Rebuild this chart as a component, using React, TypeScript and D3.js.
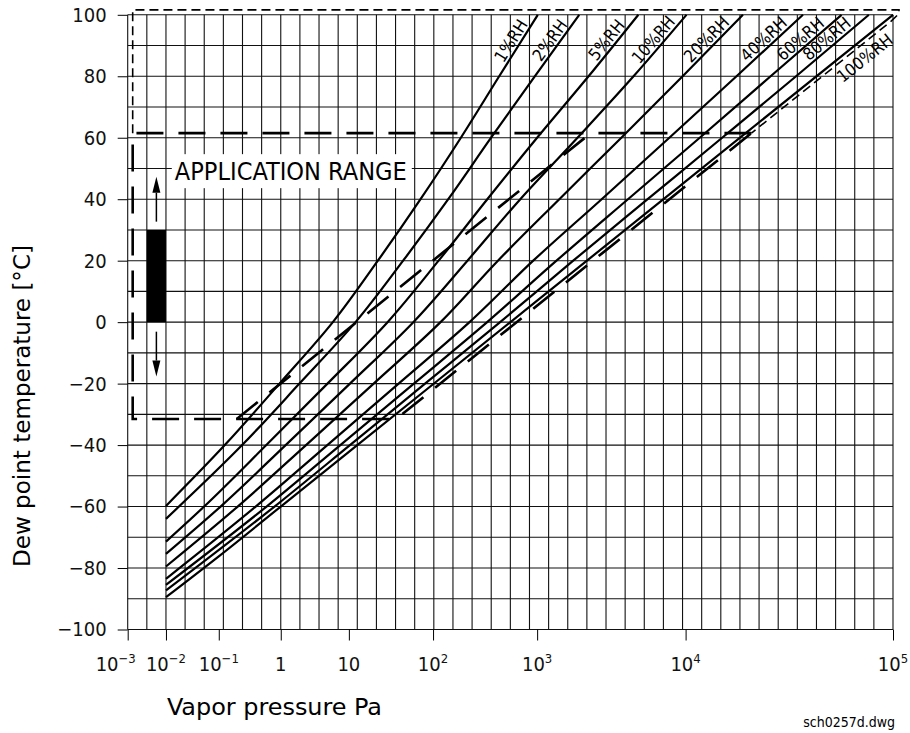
import { useEffect, useRef } from 'react';
import * as d3 from 'd3';

type Pt = [number, number]; // [vapor pressure Pa, temperature °C]

// decades of the vapor pressure axis and the dew point each one sits at
const decadeExp = [-3, -2, -1, 0, 1, 2, 3, 4, 5];
const decadeDewPoint = [-100, -90, -76.2, -60, -42.2, -20.2, 7, 45.8, 100];
const tickBase = ['10', '10', '10', '1', '10', '10', '10', '10', '10'];
const tickExp = ['−3', '−2', '−1', '', '', '2', '3', '4', '5'];
const tempTicks = [-100, -80, -60, -40, -20, 0, 20, 40, 60, 80, 100];

const rhNames = ['1%RH', '2%RH', '5%RH', '10%RH', '20%RH', '40%RH', '60%RH', '80%RH', '100%RH'];

// RH curves
const rh1: Pt[] = [[0.01, -59.8], [0.125, -40], [0.954, -20], [5.82, 0], [22.1, 20], [71, 40], [185, 60], [432, 80], [1010, 100]];
const rh2: Pt[] = [[0.01, -64], [0.238, -40], [1.88, -20], [12, 0], [44.1, 20], [140, 40], [361, 60], [949, 80], [1920, 100]];
const rh5: Pt[] = [[0.01, -71.4], [0.0528, -60], [0.585, -40], [4.85, -20], [28.8, 0], [113, 20], [332, 40], [999, 60], [2220, 80], [4800, 100]];
const rh10: Pt[] = [[0.01, -75.4], [0.107, -60], [1.18, -40], [10.3, -20], [58.3, 0], [214, 20], [689, 40], [1870, 60], [4460, 80], [10100, 100]];
const rh20: Pt[] = [[0.01, -79.5], [0.202, -60], [2.35, -40], [19.7, -20], [118, 0], [420, 20], [1410, 40], [3690, 60], [9550, 80], [18900, 100]];
const rh40: Pt[] = [[0.01, -83.5], [0.394, -60], [4.83, -40], [39, -20], [224, 0], [917, 20], [2720, 40], [7770, 60], [17600, 80], [36800, 100]];
const rh60: Pt[] = [[0.01, -85.5], [0.59, -60], [7.49, -40], [59.2, -20], [331, 0], [1350, 20], [4090, 40], [11700, 60], [25700, 80], [56500, 100]];
const rh80: Pt[] = [[0.01, -87.3], [0.793, -60], [10.3, -40], [80.3, -20], [441, 0], [1750, 20], [5550, 40], [15000, 60], [34100, 80], [76500, 100]];
const rh100: Pt[] = [[0.01, -89.5], [0.1, -76.2], [1, -60], [10, -42.2], [100, -20.2], [1000, 7], [10000, 45.8], [100000, 100]];
const curves = [rh1, rh2, rh5, rh10, rh20, rh40, rh60, rh80, rh100];

// application range outlines
const rangeMain: Pt[] = [[20770, 61.5], [0.00135, 61.5], [0.00135, -31.5], [36.6, -31.5], [20770, 61.5]];
const rangeLimit: Pt[] = [[0.195, -31.5], [2295, 61.5]];
const rangeHigh: Pt[] = [[0.00135, 61.5], [0.00135, 101.6], [106900, 101.6], [106900, 100.4], [98310, 98], [20770, 61.5]];
const sensorBar: Pt[] = [[0.00316, 0], [0.01, 30]];
const arrowUp: Pt[] = [[0.00562, 32.7], [0.00562, 47.3]];
const arrowDown: Pt[] = [[0.00562, -3.1], [0.00562, -17.7]];
const rangeLabelAt: Pt = [0.0147, 46.2];

const FONT = "'Liberation Sans Narrow', 'DejaVu Sans Condensed', 'Arial Narrow', sans-serif";

const DewPointChart = () => {
  const svgRef = useRef<SVGSVGElement>(null);

  useEffect(() => {
    const svg = d3.select(svgRef.current);
    svg.selectAll('*').remove();

    const margin = { top: 14.8, right: 17, bottom: 103.5, left: 127.7 };
    const width = 910 - margin.left - margin.right;
    const height = 733 - margin.top - margin.bottom;

    // x: vapor pressure on a dew point based axis
    const xDew = d3.scaleLinear().domain([-100, 100]).range([0, width]);
    const xLog = d3
      .scaleLinear()
      .domain(decadeExp)
      .range(decadeDewPoint.map((d) => xDew(d)));
    const x = (p: number) => xLog(Math.log10(p));
    const y = d3.scaleLinear().domain([-100, 100]).range([height, 0]);

    svg.append('rect').attr('width', 910).attr('height', 733).attr('fill', '#fff');

    const chart = svg
      .append('g')
      .attr('transform', `translate(${margin.left},${margin.top})`);

    // grid
    chart
      .append('g')
      .selectAll('line')
      .data(d3.range(-100, 101, 5))
      .join('line')
      .attr('x1', (d) => xDew(d))
      .attr('x2', (d) => xDew(d))
      .attr('y1', 0)
      .attr('y2', height)
      .attr('stroke', '#111')
      .attr('stroke-width', 1.1);
    chart
      .append('g')
      .selectAll('line')
      .data(d3.range(-100, 101, 10))
      .join('line')
      .attr('x1', 0)
      .attr('x2', width)
      .attr('y1', (d) => y(d))
      .attr('y2', (d) => y(d))
      .attr('stroke', '#111')
      .attr('stroke-width', 1.1);

    // y axis
    chart
      .append('g')
      .call(
        d3
          .axisLeft(y)
          .tickValues(tempTicks)
          .tickSize(10)
          .tickPadding(11)
          .tickFormat((d) => (+d < 0 ? '−' + Math.abs(+d) : String(d))),
      )
      .call((g) => g.select('.domain').remove())
      .call((g) =>
        g
          .selectAll('text')
          .attr('font-family', FONT)
          .attr('font-size', 20)
          .attr('fill', '#111'),
      );

    // x axis
    const xAxis = chart
      .append('g')
      .attr('transform', `translate(0,${height})`)
      .call(
        d3
          .axisBottom(xLog)
          .tickValues(decadeExp)
          .tickSize(11)
          .tickFormat(() => ''),
      )
      .call((g) => g.select('.domain').remove());
    decadeExp.forEach((e, i) => {
      const t = xAxis
        .append('text')
        .attr('x', xLog(e) + (i === 0 ? -12 : 0))
        .attr('y', 41.5)
        .attr('text-anchor', 'middle')
        .attr('font-family', FONT)
        .attr('font-size', 20)
        .attr('fill', '#111');
      t.append('tspan').text(tickBase[i]);
      if (tickExp[i]) {
        t.append('tspan').attr('dy', -8).attr('font-size', 13).text(tickExp[i]);
      }
    });

    // application range label with white box
    const labelGroup = chart.append('g');
    const rangeText = labelGroup
      .append('text')
      .attr('x', x(rangeLabelAt[0]))
      .attr('y', y(rangeLabelAt[1]))
      .attr('font-family', FONT)
      .attr('font-size', 25)
      .attr('textLength', 232)
      .attr('lengthAdjust', 'spacingAndGlyphs')
      .attr('fill', '#000')
      .text('APPLICATION RANGE');
    const bb = (rangeText.node() as SVGTextElement).getBBox();
    labelGroup
      .insert('rect', 'text')
      .attr('x', bb.x - 3)
      .attr('y', bb.y - 3)
      .attr('width', bb.width + 8)
      .attr('height', bb.height + 5)
      .attr('fill', '#fff');

    const path = d3
      .line<Pt>()
      .x((d) => x(d[0]))
      .y((d) => y(d[1]));

    // range outlines
    chart
      .append('path')
      .attr('d', path(rangeHigh) as string)
      .attr('fill', 'none')
      .attr('stroke', '#000')
      .attr('stroke-width', 1.6)
      .attr('stroke-dasharray', '9 5');
    chart
      .append('path')
      .attr('d', path(rangeMain) as string)
      .attr('fill', 'none')
      .attr('stroke', '#000')
      .attr('stroke-width', 2.6)
      .attr('stroke-dasharray', '27 15');
    chart
      .append('path')
      .attr('d', path(rangeLimit) as string)
      .attr('fill', 'none')
      .attr('stroke', '#000')
      .attr('stroke-width', 2.6)
      .attr('stroke-dasharray', '27 15');

    // RH curves
    const curveLine = d3
      .line<Pt>()
      .x((d) => x(d[0]))
      .y((d) => y(d[1]))
      .curve(d3.curveMonotoneY);
    chart
      .selectAll('.rh')
      .data(curves)
      .join('path')
      .attr('class', 'rh')
      .attr('fill', 'none')
      .attr('stroke', '#000')
      .attr('stroke-width', 2.2)
      .attr('d', (d) => curveLine(d) as string);

    // curve labels along each line
    const labelY = y(90);
    curves.forEach((pts, i) => {
      const px = pts.map(([p, t]) => [x(p), y(t)]);
      const k = px.findIndex((q, j) => j > 0 && q[1] <= labelY);
      const a = px[k - 1];
      const b = px[k];
      const f = (labelY - a[1]) / (b[1] - a[1]);
      const cx = a[0] + f * (b[0] - a[0]);
      const ang = (Math.atan2(b[1] - a[1], b[0] - a[0]) * 180) / Math.PI;
      chart
        .append('text')
        .attr('transform', `translate(${cx},${labelY}) rotate(${ang})`)
        .attr('y', i === curves.length - 1 ? 22 : -3)
        .attr('text-anchor', 'middle')
        .attr('font-family', FONT)
        .attr('font-size', 17)
        .attr('fill', '#000')
        .text(rhNames[i]);
    });

    // sensor bar and arrows
    chart
      .append('rect')
      .attr('x', x(sensorBar[0][0]))
      .attr('y', y(sensorBar[1][1]))
      .attr('width', x(sensorBar[1][0]) - x(sensorBar[0][0]))
      .attr('height', y(sensorBar[0][1]) - y(sensorBar[1][1]))
      .attr('fill', '#000');
    [arrowUp, arrowDown].forEach(([from, to]) => {
      const ax = x(from[0]);
      const y0 = y(from[1]);
      const y1 = y(to[1]);
      const dir = Math.sign(y1 - y0);
      const headBase = y1 - dir * 16;
      chart
        .append('line')
        .attr('x1', ax)
        .attr('x2', ax)
        .attr('y1', y0)
        .attr('y2', headBase)
        .attr('stroke', '#000')
        .attr('stroke-width', 1.5);
      chart
        .append('path')
        .attr('d', `M${ax},${y1}L${ax - 4},${headBase}L${ax + 4},${headBase}Z`)
        .attr('fill', '#000');
    });

    // titles
    svg
      .append('text')
      .attr('x', 167)
      .attr('y', 715)
      .attr('font-family', FONT)
      .attr('font-size', 23)
      .attr('textLength', 215)
      .attr('lengthAdjust', 'spacingAndGlyphs')
      .text('Vapor pressure Pa');
    svg
      .append('text')
      .attr('transform', 'translate(30,406) rotate(-90)')
      .attr('text-anchor', 'middle')
      .attr('font-family', FONT)
      .attr('font-size', 23)
      .attr('textLength', 322)
      .attr('lengthAdjust', 'spacingAndGlyphs')
      .text('Dew point temperature [°C]');
    svg
      .append('text')
      .attr('x', 895)
      .attr('y', 727)
      .attr('text-anchor', 'end')
      .attr('font-family', FONT)
      .attr('font-size', 14)
      .text('sch0257d.dwg');
  }, []);

  return (
    <svg
      ref={svgRef}
      width={910}
      height={733}
      style={{ position: 'absolute', left: 0, top: 0 }}
    />
  );
};

export default function App() {
  return <DewPointChart />;
}
